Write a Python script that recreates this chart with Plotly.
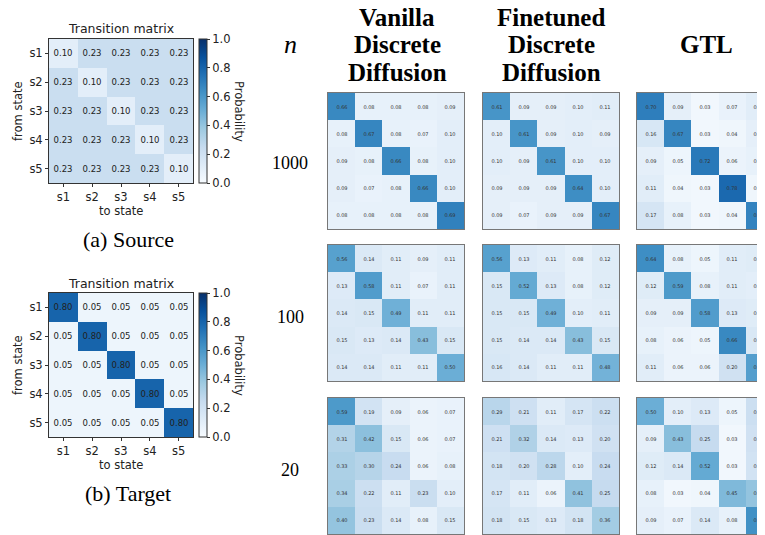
import plotly.graph_objects as go

states = ["s1", "s2", "s3", "s4", "s5"]

source = [[0.10, 0.23, 0.23, 0.23, 0.23],
          [0.23, 0.10, 0.23, 0.23, 0.23],
          [0.23, 0.23, 0.10, 0.23, 0.23],
          [0.23, 0.23, 0.23, 0.10, 0.23],
          [0.23, 0.23, 0.23, 0.23, 0.10]]
target = [[0.80, 0.05, 0.05, 0.05, 0.05],
          [0.05, 0.80, 0.05, 0.05, 0.05],
          [0.05, 0.05, 0.80, 0.05, 0.05],
          [0.05, 0.05, 0.05, 0.80, 0.05],
          [0.05, 0.05, 0.05, 0.05, 0.80]]

vanilla_1000 = [[0.66, 0.08, 0.08, 0.08, 0.09],
                [0.08, 0.67, 0.08, 0.07, 0.10],
                [0.09, 0.08, 0.66, 0.08, 0.10],
                [0.09, 0.07, 0.08, 0.66, 0.10],
                [0.08, 0.08, 0.08, 0.08, 0.69]]
finetuned_1000 = [[0.61, 0.09, 0.09, 0.10, 0.11],
                  [0.10, 0.61, 0.09, 0.10, 0.09],
                  [0.10, 0.09, 0.61, 0.10, 0.10],
                  [0.09, 0.09, 0.09, 0.64, 0.10],
                  [0.09, 0.07, 0.09, 0.09, 0.67]]
gtl_1000 = [[0.70, 0.09, 0.03, 0.07, 0.11],
            [0.16, 0.67, 0.03, 0.04, 0.09],
            [0.09, 0.05, 0.72, 0.06, 0.08],
            [0.11, 0.04, 0.03, 0.78, 0.04],
            [0.17, 0.08, 0.03, 0.04, 0.68]]
vanilla_100 = [[0.56, 0.14, 0.11, 0.09, 0.11],
               [0.13, 0.58, 0.11, 0.07, 0.11],
               [0.14, 0.15, 0.49, 0.11, 0.11],
               [0.15, 0.13, 0.14, 0.43, 0.15],
               [0.14, 0.14, 0.11, 0.11, 0.50]]
finetuned_100 = [[0.56, 0.13, 0.11, 0.08, 0.12],
                 [0.15, 0.52, 0.13, 0.08, 0.12],
                 [0.15, 0.15, 0.49, 0.10, 0.11],
                 [0.15, 0.14, 0.14, 0.43, 0.15],
                 [0.16, 0.14, 0.11, 0.11, 0.48]]
gtl_100 = [[0.64, 0.08, 0.05, 0.11, 0.12],
           [0.12, 0.59, 0.08, 0.11, 0.10],
           [0.09, 0.09, 0.58, 0.13, 0.12],
           [0.08, 0.06, 0.05, 0.66, 0.15],
           [0.11, 0.06, 0.06, 0.20, 0.57]]
vanilla_20 = [[0.59, 0.19, 0.09, 0.06, 0.07],
              [0.31, 0.42, 0.15, 0.06, 0.07],
              [0.33, 0.30, 0.24, 0.06, 0.08],
              [0.34, 0.22, 0.11, 0.23, 0.10],
              [0.40, 0.23, 0.14, 0.08, 0.15]]
finetuned_20 = [[0.29, 0.21, 0.11, 0.17, 0.22],
                [0.21, 0.32, 0.14, 0.13, 0.20],
                [0.18, 0.20, 0.28, 0.10, 0.24],
                [0.17, 0.11, 0.06, 0.41, 0.25],
                [0.18, 0.15, 0.13, 0.18, 0.36]]
gtl_20 = [[0.50, 0.10, 0.13, 0.05, 0.22],
          [0.09, 0.43, 0.25, 0.03, 0.20],
          [0.12, 0.14, 0.52, 0.03, 0.19],
          [0.08, 0.03, 0.04, 0.45, 0.40],
          [0.09, 0.07, 0.14, 0.08, 0.63]]

col_titles = [["Vanilla", "Discrete", "Diffusion"],
              ["Finetuned", "Discrete", "Diffusion"],
              ["GTL"]]
row_labels = ["1000", "100", "20"]
grid = [[vanilla_1000, finetuned_1000, gtl_1000],
        [vanilla_100, finetuned_100, gtl_100],
        [vanilla_20, finetuned_20, gtl_20]]
cbar_ticks = [0.0, 0.2, 0.4, 0.6, 0.8, 1.0]

# page body has an 8px default margin; figure is sized to fill the rest of the window
OFF = 8
SW, SH = 765, 535
W, H = SW - OFF, SH - OFF
BLUES = [[0.0, "#f7fbff"], [0.125, "#deebf7"], [0.25, "#c6dbef"], [0.375, "#9ecae1"],
         [0.5, "#6baed6"], [0.625, "#4292c6"], [0.75, "#2171b5"], [0.875, "#08519c"],
         [1.0, "#08306b"]]


def fx(p):
    return (p - OFF) / W


def fy(p):
    return 1 - (p - OFF) / H


def ann(text, x, y, size, family, color="#222", angle=0):
    return dict(text=text, x=fx(x), y=fy(y), xref="paper", yref="paper", showarrow=False,
                xanchor="center", yanchor="middle", textangle=angle,
                font=dict(size=size, family=family, color=color))


fig = go.Figure()
layout = {}
annotations = []

# ---- source / target panels ----
panels = [(source, 39, 183, "(a) Source", 239), (target, 293, 437, "(b) Target", 493)]
for i, (mat, top, bot, cap, capy) in enumerate(panels):
    n = "" if i == 0 else str(i + 1)
    fig.add_trace(go.Heatmap(
        z=mat, x=states, y=states, xaxis="x" + n, yaxis="y" + n,
        colorscale=BLUES, zmin=0, zmax=1, hoverinfo="skip",
        texttemplate="%{z:.2f}", textfont=dict(size=8.5, color="#222", family="DejaVu Sans"),
        showscale=True,
        colorbar=dict(x=fx(199), xanchor="left", y=fy((top + bot) / 2), yanchor="middle",
                      len=(bot - top) / H, lenmode="fraction", thickness=8,
                      thicknessmode="pixels", outlinewidth=1, outlinecolor="#333",
                      tickvals=cbar_ticks, ticktext=[f"{t:.1f}" for t in cbar_ticks],
                      ticks="outside", ticklen=3, tickcolor="#333", xpad=0, ypad=0,
                      tickfont=dict(size=11.5, family="DejaVu Sans", color="#222")),
    ))
    axstyle = dict(showgrid=False, zeroline=False, showline=True, mirror=True,
                   linecolor="#333", linewidth=1, ticks="outside", ticklen=3,
                   tickcolor="#333", tickfont=dict(size=11.5, family="DejaVu Sans", color="#222"),
                   fixedrange=True)
    layout["xaxis" + n] = dict(domain=[fx(49), fx(193)], anchor="y" + n, range=[-0.5, 4.5],
                               **axstyle)
    layout["yaxis" + n] = dict(domain=[fy(bot), fy(top)], anchor="x" + n, range=[4.5, -0.5],
                               **axstyle)
    annotations += [
        ann("Transition matrix", 121, top - 10, 12.5, "DejaVu Sans"),
        ann("to state", 121, bot + 28, 11.5, "DejaVu Sans"),
        ann("from state", 18, (top + bot) / 2, 11.5, "DejaVu Sans", angle=-90),
        ann("Probability", 239, (top + bot) / 2, 11.5, "DejaVu Sans", angle=90),
        ann(cap, 128, capy, 22, "Liberation Serif", color="black"),
    ]

# ---- 3x3 grid ----
col_x = [(328, 464), (483, 619), (637, 773)]
row_y = [(93, 229), (245, 381), (398, 534)]
row_label_y = [163, 317, 470]
k = 3
for r in range(3):
    for c in range(3):
        n = str(k)
        x0, x1 = col_x[c]
        y0, y1 = row_y[r]
        xr = [-0.5, 4.5]
        if x1 > SW:
            xr = [-0.5, -0.5 + 5 * (SW - x0) / (x1 - x0)]
            x1 = SW
        fig.add_trace(go.Heatmap(
            z=grid[r][c], x=states, y=states, xaxis="x" + n, yaxis="y" + n,
            colorscale=BLUES, zmin=0, zmax=1, showscale=False, hoverinfo="skip",
            texttemplate="%{z:.2f}", textfont=dict(size=5, color="#333", family="DejaVu Sans"),
        ))
        clipped = xr[1] < 4.5
        layout["xaxis" + n] = dict(domain=[fx(x0), fx(x1)], anchor="y" + n, range=xr,
                                   showticklabels=False, ticks="", showgrid=False,
                                   zeroline=False, showline=True, mirror=True,
                                   linecolor="#777", linewidth=1, fixedrange=True)
        layout["yaxis" + n] = dict(domain=[fy(y1), fy(y0)], anchor="x" + n, range=[4.5, -0.5],
                                   showticklabels=False, ticks="", showgrid=False,
                                   zeroline=False, showline=True, mirror=not clipped,
                                   linecolor="#777", linewidth=1, fixedrange=True)
        k += 1

# column headers
header_x = [397, 551, 706]
line_y = [18, 45, 72]
for c, lines in enumerate(col_titles):
    ys = line_y if len(lines) == 3 else [45]
    for t, yy in zip(lines, ys):
        annotations.append(ann("<b>" + t + "</b>", header_x[c], yy, 25, "Liberation Serif",
                               color="black"))
annotations.append(ann("<i>n</i>", 290, 45, 26, "Liberation Serif", color="black"))
for lab, yy in zip(row_labels, row_label_y):
    annotations.append(ann(lab, 290, yy, 18, "Liberation Serif", color="black"))

fig.update_layout(width=W, height=H, margin=dict(l=0, r=0, t=0, b=0),
                  paper_bgcolor="white", plot_bgcolor="white", showlegend=False,
                  annotations=annotations, **layout)
fig.write_html("out.html")
